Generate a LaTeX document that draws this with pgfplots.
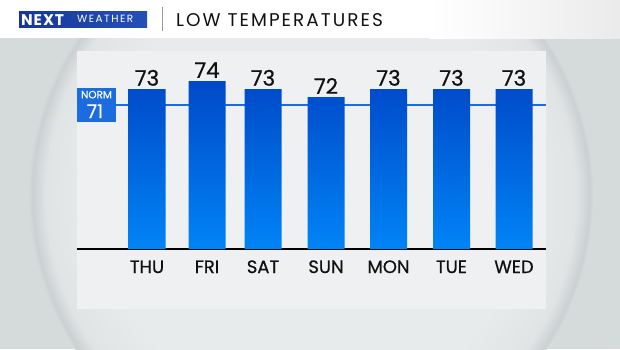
\documentclass[border=0pt]{standalone}
\usepackage{pgfplots}
\pgfplotsset{compat=1.18}
\usepackage{fontspec}
\setmainfont{Poppins}
\newfontfamily\medfont{Poppins}[FakeBold=0.6]
\definecolor{bgg}{HTML}{D5DADB}
\definecolor{sphA}{HTML}{E8EBEC}
\definecolor{sphB}{HTML}{E1E4E5}
\definecolor{sphC}{HTML}{CBD0D2}
\definecolor{sphD}{HTML}{D4D9DA}
\definecolor{panel}{HTML}{EEF0F1}
\definecolor{barTop}{HTML}{0049C8}
\definecolor{barBot}{HTML}{0084F6}
\definecolor{normc}{HTML}{1A6CE0}
\definecolor{logoA}{HTML}{17369A}
\definecolor{logoB}{HTML}{2450BA}
\definecolor{txt}{HTML}{111111}
\pgfdeclareradialshading{sphere}{\pgfpoint{0bp}{0bp}}{color(0bp)=(sphA); color(19bp)=(sphA); color(23.5bp)=(sphB); color(24.7bp)=(sphC); color(25bp)=(sphD); color(50bp)=(sphD)}
\begin{document}
\begin{tikzpicture}
\begin{scope}[x=1bp,y=-1bp]
\useasboundingbox (0,0) rectangle (620,349);
\fill[bgg] (0,0) rectangle (620,349);
\shade[shading=sphere] (311,195) circle (282);
\fill[white] (0,0) rectangle (620,38);
\shade[left color=white, right color=black!8] (430,0) rectangle (620,38);
\shade[left color=logoA, right color=logoB] (19,11) rectangle (147,27);
\node[anchor=base west, inner sep=0, text=white, font=\fontsize{15.5}{15.5}\selectfont\bfseries\addfontfeatures{LetterSpace=6}] at (21,25) {NEXT};
\node[anchor=base west, inner sep=0, text=white, font=\fontsize{10.5}{10.5}\selectfont\addfontfeatures{LetterSpace=14}] at (77,22.7) {WEATHER};
\draw[black!40, line width=1bp] (162,7) -- (162,31);
\node[anchor=base west, inner sep=0, text=txt, font=\fontsize{18.5}{18.5}\selectfont\addfontfeatures{LetterSpace=11}] at (176,26) {LOW TEMPERATURES};
\fill[panel] (77,51) rectangle (546,309);
\end{scope}
\begin{axis}[
  at={(77bp,-249bp)}, anchor=south west,
  scale only axis, width=469bp, height=198bp,
  xmin=77, xmax=546, ymin=53, ymax=77.75,
  clip=false,
  axis x line*=bottom, axis y line=none,
  x axis line style={black, line width=1.5bp, -},
  ytick=\empty,
  xtick={147,207,263,326,388.5,451.5,514},
  xticklabels={THU,FRI,SAT,SUN,MON,TUE,WED},
  major tick length=0pt,
  xticklabel style={anchor=base, yshift=-24bp, text=txt, font=\fontsize{18}{18}\selectfont\medfont},
  /pgf/number format/assume math mode=true,
]
\addplot[normc, line width=2bp, forget plot] coordinates {(116,71) (546,71)};
\addplot[ybar, bar width=37, draw=none, top color=barTop, bottom color=barBot,
  nodes near coords, every node near coord/.append style={text=txt, anchor=south, inner sep=0pt, yshift=3bp, font=\fontsize{21.5}{21.5}\selectfont\medfont}]
  coordinates {(147,73) (207,74) (263,73) (326,72) (388.5,73) (451.5,73) (514,73)};
\node[fill=normc, minimum width=39bp, minimum height=34bp, inner sep=0pt, anchor=west] at (axis cs:77,71) {};
\node[anchor=base, inner sep=0pt, text=white, font=\fontsize{10.5}{10.5}\selectfont\medfont, yshift=6.7bp] at (axis cs:96.5,71) {NORM};
\node[anchor=base, inner sep=0pt, text=white, font=\fontsize{19}{19}\selectfont\medfont, yshift=-13bp] at (axis cs:95,71) {71};
\end{axis}
\end{tikzpicture}
\end{document}
